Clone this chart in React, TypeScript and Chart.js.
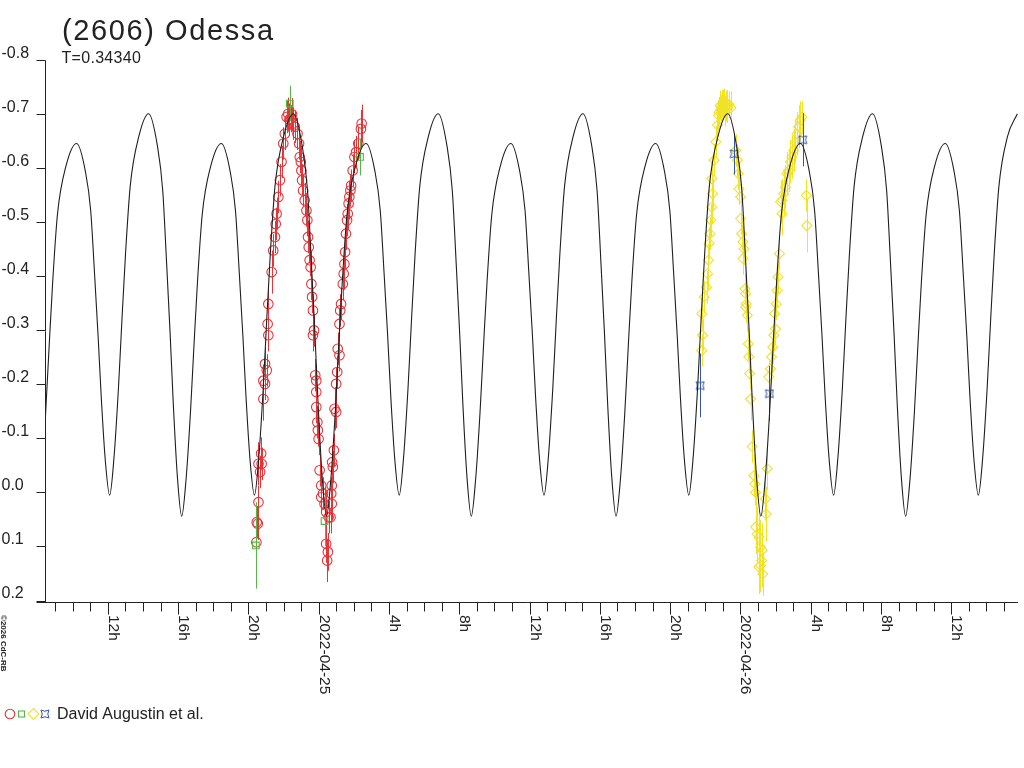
import React, { useEffect, useRef } from 'react';
import { Chart, registerables } from 'chart.js';

Chart.register(...registerables);

// ---------- texts ----------
const TITLE = '(2606) Odessa';
const SUBTITLE = 'T=0.34340';
const LEGEND_LABEL = 'David Augustin et al.';
const COPYRIGHT = '\u00A92026 CdC-RB';

// ---------- axes (x in hours from 2022-04-24 00:00, y in relative magnitude) ----------
const xRange = [8.42, 63.79];
const yRange = [-0.8, 0.2];
const yTicks = [-0.8, -0.7, -0.6, -0.5, -0.4, -0.3, -0.2, -0.1, 0.0, 0.1, 0.2];
const yTickLabels = ['-0.8', '-0.7', '-0.6', '-0.5', '-0.4', '-0.3', '-0.2', '-0.1', '0.0', '0.1', '0.2'];
const xMajorHours = [12, 16, 20, 24, 28, 32, 36, 40, 44, 48, 52, 56, 60];
const xMajorLabels = ['12h', '16h', '20h', '2022-04-25', '4h', '8h', '12h', '16h', '20h', '2022-04-26', '4h', '8h', '12h'];

// ---------- model lightcurve [hour, mag] ----------
const modelCurve: number[][] = [
  [8.42, -0.125], [8.66, -0.273], [8.86, -0.391], [9.13, -0.515], [9.62, -0.605], [10.22, -0.646],
  [10.72, -0.594], [11.02, -0.522], [11.24, -0.405], [11.44, -0.291], [11.62, -0.177], [11.85, -0.06], [12.10, 0.005],
  [12.35, -0.066], [12.60, -0.193], [12.80, -0.32], [13.00, -0.44], [13.27, -0.567], [13.76, -0.659], [14.32, -0.701],
  [14.82, -0.641], [15.12, -0.559], [15.34, -0.425], [15.54, -0.295], [15.72, -0.165], [15.95, -0.031], [16.20, 0.044],
  [16.45, -0.025], [16.70, -0.149], [16.90, -0.273], [17.10, -0.391], [17.37, -0.515], [17.86, -0.605], [18.46, -0.646],
  [18.96, -0.594], [19.26, -0.522], [19.48, -0.405], [19.68, -0.291], [19.86, -0.177], [20.09, -0.06], [20.34, 0.005],
  [20.59, -0.066], [20.84, -0.193], [21.04, -0.32], [21.24, -0.44], [21.51, -0.567], [22.00, -0.659], [22.56, -0.701],
  [23.06, -0.641], [23.36, -0.559], [23.58, -0.425], [23.78, -0.295], [23.96, -0.165], [24.19, -0.031], [24.44, 0.044],
  [24.69, -0.025], [24.94, -0.149], [25.14, -0.273], [25.34, -0.391], [25.61, -0.515], [26.10, -0.605], [26.70, -0.646],
  [27.20, -0.594], [27.50, -0.522], [27.72, -0.405], [27.92, -0.291], [28.10, -0.177], [28.33, -0.06], [28.58, 0.005],
  [28.83, -0.066], [29.08, -0.193], [29.28, -0.32], [29.48, -0.44], [29.75, -0.567], [30.24, -0.659], [30.80, -0.701],
  [31.30, -0.641], [31.60, -0.559], [31.82, -0.425], [32.02, -0.295], [32.20, -0.165], [32.43, -0.031], [32.68, 0.044],
  [32.93, -0.025], [33.18, -0.149], [33.38, -0.273], [33.58, -0.391], [33.85, -0.515], [34.34, -0.605], [34.94, -0.646],
  [35.44, -0.594], [35.74, -0.522], [35.96, -0.405], [36.16, -0.291], [36.34, -0.177], [36.57, -0.06], [36.82, 0.005],
  [37.07, -0.066], [37.32, -0.193], [37.52, -0.32], [37.72, -0.44], [37.99, -0.567], [38.48, -0.659], [39.04, -0.701],
  [39.54, -0.641], [39.84, -0.559], [40.06, -0.425], [40.26, -0.295], [40.44, -0.165], [40.67, -0.031], [40.92, 0.044],
  [41.17, -0.025], [41.42, -0.149], [41.62, -0.273], [41.82, -0.391], [42.09, -0.515], [42.58, -0.605], [43.18, -0.646],
  [43.68, -0.594], [43.98, -0.522], [44.20, -0.405], [44.40, -0.291], [44.58, -0.177], [44.81, -0.06], [45.06, 0.005],
  [45.31, -0.066], [45.56, -0.193], [45.76, -0.32], [45.96, -0.44], [46.23, -0.567], [46.72, -0.659], [47.28, -0.701],
  [47.78, -0.641], [48.08, -0.559], [48.30, -0.425], [48.50, -0.295], [48.68, -0.165], [48.91, -0.031], [49.16, 0.044],
  [49.41, -0.025], [49.66, -0.149], [49.86, -0.273], [50.06, -0.391], [50.33, -0.515], [50.82, -0.605], [51.42, -0.646],
  [51.92, -0.594], [52.22, -0.522], [52.44, -0.405], [52.64, -0.291], [52.82, -0.177], [53.05, -0.06], [53.30, 0.005],
  [53.55, -0.066], [53.80, -0.193], [54.00, -0.32], [54.20, -0.44], [54.47, -0.567], [54.96, -0.659], [55.52, -0.701],
  [56.02, -0.641], [56.32, -0.559], [56.54, -0.425], [56.74, -0.295], [56.92, -0.165], [57.15, -0.031], [57.40, 0.044],
  [57.65, -0.025], [57.90, -0.149], [58.10, -0.273], [58.30, -0.391], [58.57, -0.515], [59.06, -0.605], [59.66, -0.646],
  [60.16, -0.594], [60.46, -0.522], [60.68, -0.405], [60.88, -0.291], [61.06, -0.177], [61.29, -0.06], [61.54, 0.005],
  [61.79, -0.066], [62.04, -0.193], [62.24, -0.32], [62.44, -0.44], [62.71, -0.567], [63.20, -0.659], [63.76, -0.701],
];

// ---------- observations [hour, mag, error] ----------
const redObs: number[][] = [
  [20.45, 0.092, 0.035], [20.47, 0.055, 0.03], [20.53, 0.058, 0.03], [20.57, 0.018, 0.03], [20.57, -0.053, 0.04],
  [20.66, -0.038, 0.03], [20.72, -0.072, 0.03], [20.75, -0.053, 0.03], [20.85, -0.173, 0.04], [20.85, -0.207, 0.03],
  [20.94, -0.201, 0.03], [20.94, -0.238, 0.03], [21.04, -0.226, 0.03], [21.09, -0.312, 0.035], [21.13, -0.291, 0.03],
  [21.13, -0.349, 0.03], [21.32, -0.408, 0.04], [21.41, -0.448, 0.03], [21.51, -0.473, 0.03], [21.55, -0.497, 0.03],
  [21.60, -0.516, 0.03], [21.70, -0.547, 0.03], [21.79, -0.578, 0.03], [21.88, -0.612, 0.03], [21.98, -0.646, 0.03],
  [22.07, -0.664, 0.03], [22.17, -0.695, 0.03], [22.26, -0.701, 0.03], [22.33, -0.69, 0.03], [22.41, -0.692, 0.025],
  [22.48, -0.7, 0.03], [22.54, -0.683, 0.03], [22.64, -0.677, 0.03], [22.79, -0.664, 0.03], [22.88, -0.646, 0.03],
  [22.92, -0.621, 0.03], [22.98, -0.612, 0.03], [23.01, -0.596, 0.03], [23.05, -0.578, 0.03], [23.11, -0.559, 0.03],
  [23.20, -0.541, 0.03], [23.30, -0.522, 0.03], [23.35, -0.504, 0.03], [23.39, -0.473, 0.03], [23.43, -0.454, 0.03],
  [23.48, -0.43, 0.03], [23.54, -0.417, 0.03], [23.58, -0.386, 0.03], [23.62, -0.362, 0.03], [23.67, -0.337, 0.03],
  [23.73, -0.3, 0.03], [23.67, -0.291, 0.03], [23.80, -0.217, 0.03], [23.86, -0.207, 0.03], [23.86, -0.186, 0.03],
  [23.86, -0.158, 0.03], [23.92, -0.13, 0.03], [23.95, -0.115, 0.03], [23.99, -0.099, 0.03], [24.05, -0.041, 0.03],
  [24.14, -0.013, 0.03], [24.14, 0.009, 0.03], [24.24, 0.002, 0.03], [24.33, 0.021, 0.03], [24.42, 0.036, 0.03],
  [24.56, 0.046, 0.03], [24.42, 0.095, 0.035], [24.52, 0.11, 0.035], [24.48, 0.126, 0.04],
  [24.67, 0.046, 0.03], [24.71, 0.002, 0.03], [24.74, 0.021, 0.03], [24.74, -0.013, 0.03], [24.76, -0.056, 0.03],
  [24.80, -0.047, 0.03], [24.86, -0.078, 0.03], [24.90, -0.155, 0.04], [24.99, -0.149, 0.03], [24.99, -0.201, 0.03],
  [25.05, -0.223, 0.03], [25.08, -0.266, 0.03], [25.18, -0.254, 0.03], [25.18, -0.312, 0.03], [25.22, -0.337, 0.03],
  [25.27, -0.349, 0.03], [25.37, -0.386, 0.03], [25.42, -0.405, 0.03], [25.46, -0.423, 0.03], [25.50, -0.445, 0.03],
  [25.55, -0.479, 0.03], [25.61, -0.504, 0.03], [25.65, -0.516, 0.03], [25.70, -0.535, 0.03], [25.74, -0.547, 0.03],
  [25.80, -0.559, 0.03], [25.84, -0.568, 0.03], [25.93, -0.596, 0.03], [26.03, -0.621, 0.03], [26.12, -0.63, 0.03],
  [26.25, -0.646, 0.03], [26.40, -0.673, 0.035], [26.44, -0.683, 0.035],
];

const greenObs: number[][] = [
  [20.42, 0.098, 0.08], [22.35, -0.72, 0.033], [24.33, 0.053, 0.046], [26.35, -0.621, 0.034],
];

const yellowObs: number[][] = [
  [45.80, -0.263, 0.03], [45.84, -0.291, 0.03], [45.80, -0.331, 0.03], [45.94, -0.362, 0.03], [46.07, -0.38, 0.03],
  [46.13, -0.405, 0.03], [46.18, -0.43, 0.03], [46.22, -0.461, 0.03], [46.26, -0.479, 0.03], [46.31, -0.504, 0.03],
  [46.37, -0.528, 0.03], [46.41, -0.553, 0.03], [46.37, -0.581, 0.03], [46.50, -0.615, 0.03], [46.60, -0.649, 0.03],
  [46.69, -0.68, 0.03], [46.75, -0.698, 0.028], [46.79, -0.704, 0.028], [46.84, -0.716, 0.028], [46.88, -0.708, 0.028],
  [46.93, -0.714, 0.028], [46.97, -0.72, 0.025], [47.02, -0.718, 0.028], [47.07, -0.722, 0.025], [47.12, -0.706, 0.028],
  [47.16, -0.715, 0.028], [47.21, -0.72, 0.025], [47.26, -0.712, 0.028], [47.35, -0.718, 0.025], [47.45, -0.712, 0.03],
  [47.73, -0.633, 0.03], [47.82, -0.615, 0.03], [47.88, -0.59, 0.03], [47.92, -0.562, 0.03], [48.01, -0.547, 0.03],
  [48.01, -0.507, 0.03], [48.07, -0.479, 0.03], [48.14, -0.464, 0.03], [48.20, -0.451, 0.03], [48.14, -0.433, 0.03],
  [48.26, -0.377, 0.03], [48.30, -0.368, 0.03], [48.33, -0.349, 0.03], [48.30, -0.343, 0.03], [48.39, -0.328, 0.03],
  [48.45, -0.275, 0.03], [48.48, -0.251, 0.03], [48.52, -0.22, 0.03], [48.58, -0.173, 0.04], [48.67, -0.085, 0.03],
  [48.77, -0.031, 0.04], [48.82, -0.016, 0.04], [48.86, 0.0, 0.04], [48.86, 0.064, 0.05], [48.95, 0.077, 0.05],
  [49.05, 0.083, 0.05], [49.14, 0.101, 0.05], [49.24, 0.107, 0.05], [49.14, 0.135, 0.05], [49.05, 0.138, 0.05],
  [49.20, 0.126, 0.05], [49.27, 0.151, 0.04], [49.42, 0.012, 0.04], [49.46, 0.04, 0.05], [49.52, -0.044, 0.04],
  [49.61, -0.214, 0.03], [49.71, -0.229, 0.03], [49.77, -0.251, 0.03], [49.84, -0.269, 0.03], [49.90, -0.291, 0.03],
  [49.95, -0.331, 0.03], [49.99, -0.303, 0.03], [50.03, -0.349, 0.03], [50.09, -0.374, 0.03], [50.14, -0.399, 0.03],
  [50.22, -0.442, 0.03], [50.28, -0.538, 0.04], [50.37, -0.516, 0.04], [50.37, -0.541, 0.04], [50.46, -0.553, 0.04],
  [50.56, -0.565, 0.04], [50.65, -0.59, 0.04], [50.74, -0.596, 0.04], [50.84, -0.612, 0.04], [50.93, -0.621, 0.04],
  [51.03, -0.633, 0.04], [51.12, -0.649, 0.04], [51.22, -0.664, 0.04], [51.31, -0.677, 0.04], [51.40, -0.689, 0.035],
  [51.50, -0.695, 0.03], [51.75, -0.55, 0.03], [51.78, -0.494, 0.05],
];

const blueObs: number[][] = [
  [45.71, -0.198, 0.059], [47.65, -0.627, 0.038], [49.65, -0.183, 0.051], [51.54, -0.653, 0.049],
];

// ---------- colours ----------
const RED = '#eb3237';
const GREEN = '#55b845';
const YELLOW = '#f0e22a';
const BLUE = '#3555a8';
const CURVE = '#1e1e1e';
const INK = '#222222';
const FONT = '"Liberation Sans", Arial, sans-serif';

function makeStarImage(color: string): HTMLCanvasElement {
  const c = document.createElement('canvas');
  c.width = 10;
  c.height = 10;
  const g = c.getContext('2d')!;
  g.strokeStyle = color;
  g.lineWidth = 1;
  g.beginPath();
  g.moveTo(1, 1);
  g.quadraticCurveTo(5, 3.5, 9, 1);
  g.quadraticCurveTo(6.5, 5, 9, 9);
  g.quadraticCurveTo(5, 6.5, 1, 9);
  g.quadraticCurveTo(3.5, 5, 1, 1);
  g.stroke();
  return c;
}

export default function App() {
  const ref = useRef<HTMLCanvasElement>(null);

  useEffect(() => {
    document.body.style.margin = '0';
    const canvas = ref.current!;
    const star = makeStarImage(BLUE);

    const obsSets: any[] = [
      { data: blueObs, color: BLUE, bar: BLUE, style: star, radius: 4.5 },
      { data: greenObs, color: GREEN, bar: GREEN, style: 'rect', radius: 4.7 },
      { data: redObs, color: RED, bar: RED, style: 'circle', radius: 4.8 },
      { data: yellowObs, color: YELLOW, bar: '#f5e31c', style: 'rectRot', radius: 5 },
    ];

    const datasets: any[] = [
      {
        data: modelCurve.map(([x, y]) => ({ x, y })),
        showLine: true,
        pointRadius: 0,
        borderColor: CURVE,
        borderWidth: 1.1,
        cubicInterpolationMode: 'monotone',
        fill: false,
      },
      ...obsSets.map((s) => ({
        data: s.data.map(([x, y]: number[]) => ({ x, y })),
        showLine: false,
        pointStyle: s.style,
        pointRadius: s.radius,
        borderColor: s.color,
        backgroundColor: 'rgba(0,0,0,0)',
        pointBorderWidth: 1.1,
        borderWidth: 1.1,
      })),
    ];

    const errorBars = {
      id: 'errorBars',
      beforeDatasetDraw(chart: any, args: any) {
        const idx = args.index;
        if (idx === 0) return;
        const s = obsSets[idx - 1];
        const xs = chart.scales.x;
        const ys = chart.scales.y;
        const ctx = chart.ctx;
        ctx.save();
        ctx.strokeStyle = s.bar;
        ctx.lineWidth = 1;
        ctx.beginPath();
        s.data.forEach(([h, v, e]: number[]) => {
          const px = Math.round(xs.getPixelForValue(h)) + 0.5;
          ctx.moveTo(px, ys.getPixelForValue(v - e));
          ctx.lineTo(px, ys.getPixelForValue(v + e));
        });
        ctx.stroke();
        ctx.restore();
      },
    };

    const frame = {
      id: 'frame',
      afterDraw(chart: any) {
        const ctx = chart.ctx as CanvasRenderingContext2D;
        const xs = chart.scales.x;
        const ys = chart.scales.y;
        const ca = chart.chartArea;
        ctx.save();
        ctx.strokeStyle = INK;
        ctx.fillStyle = INK;
        ctx.lineWidth = 1;

        const axisY = Math.round(ys.getPixelForValue(yRange[1])) + 1.5;
        const axisX = Math.round(ca.left) + 0.5;

        ctx.beginPath();
        ctx.moveTo(axisX - 9, axisY);
        ctx.lineTo(ca.right, axisY);
        ctx.moveTo(axisX, Math.round(ys.getPixelForValue(yRange[0])) + 0.5);
        ctx.lineTo(axisX, axisY);
        yTicks.forEach((v) => {
          const py = Math.round(ys.getPixelForValue(v)) + 0.5;
          ctx.moveTo(axisX - 9, py);
          ctx.lineTo(axisX, py);
        });
        for (let h = Math.ceil(xs.min); h <= Math.floor(xs.max); h++) {
          const px = Math.round(xs.getPixelForValue(h)) + 0.5;
          const len = h % 4 === 0 ? 12 : 9;
          ctx.moveTo(px, axisY);
          ctx.lineTo(px, axisY + len);
        }
        ctx.stroke();

        // y labels
        ctx.font = `16px ${FONT}`;
        ctx.textAlign = 'left';
        ctx.textBaseline = 'alphabetic';
        yTicks.forEach((v, i) => {
          const py = ys.getPixelForValue(v);
          ctx.fillText(yTickLabels[i], 1.5, py - 2.6);
        });

        // x labels, rotated clockwise
        ctx.font = `15.5px ${FONT}`;
        xMajorHours.forEach((h, i) => {
          const px = Math.round(xs.getPixelForValue(h));
          ctx.save();
          ctx.translate(px + 1, 615);
          ctx.rotate(Math.PI / 2);
          ctx.fillText(xMajorLabels[i], 0, 0);
          ctx.restore();
        });

        // copyright
        ctx.save();
        ctx.font = `bold 8px ${FONT}`;
        ctx.translate(1, 615);
        ctx.rotate(Math.PI / 2);
        ctx.fillText(COPYRIGHT, 0, 0);
        ctx.restore();

        // title
        ctx.font = `29px ${FONT}`;
        (ctx as any).letterSpacing = '1.6px';
        ctx.fillText(TITLE, 62, 39.5);
        ctx.font = `16px ${FONT}`;
        (ctx as any).letterSpacing = '0.3px';
        ctx.fillText(SUBTITLE, 61.5, 63.3);
        (ctx as any).letterSpacing = '0px';

        // legend
        const ly = 714;
        ctx.lineWidth = 1.1;
        ctx.strokeStyle = RED;
        ctx.beginPath();
        ctx.arc(10, ly, 4.8, 0, Math.PI * 2);
        ctx.stroke();
        ctx.strokeStyle = GREEN;
        ctx.strokeRect(18.5, ly - 3, 6, 6);
        ctx.strokeStyle = YELLOW;
        ctx.beginPath();
        ctx.moveTo(28, ly);
        ctx.lineTo(33.5, ly - 5.5);
        ctx.lineTo(39, ly);
        ctx.lineTo(33.5, ly + 5.5);
        ctx.closePath();
        ctx.stroke();
        ctx.drawImage(star, 40, ly - 5);
        ctx.fillStyle = INK;
        ctx.font = `16px ${FONT}`;
        ctx.fillText(LEGEND_LABEL, 57, 718.5);

        ctx.restore();
      },
    };

    const chart = new Chart(canvas, {
      type: 'scatter',
      data: { datasets },
      options: {
        animation: false,
        responsive: false,
        devicePixelRatio: 1,
        events: [],
        layout: { padding: { left: 45, top: 60.3, right: 0, bottom: 167.5 } },
        plugins: { legend: { display: false }, tooltip: { enabled: false } },
        scales: {
          x: { type: 'linear', min: xRange[0], max: xRange[1], display: false },
          y: { type: 'linear', min: yRange[0], max: yRange[1], reverse: true, display: false },
        },
      },
      plugins: [errorBars, frame],
    } as any);

    return () => chart.destroy();
  }, []);

  return <canvas ref={ref} width={1024} height={768} style={{ display: 'block' }} />;
}
